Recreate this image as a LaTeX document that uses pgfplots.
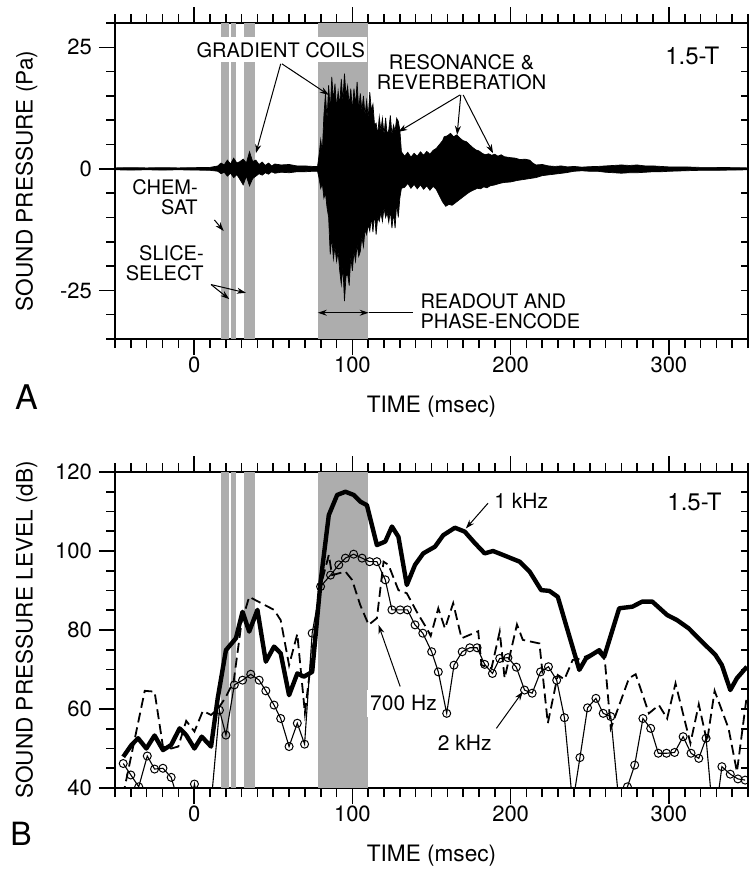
\documentclass[border=0pt]{standalone}
\usepackage{fontspec}
\setmainfont{TeX Gyre Heros}
\usepackage{pgfplots}
\pgfplotsset{compat=1.18}
\usetikzlibrary{arrows.meta}
\definecolor{band}{gray}{0.68}

% waveform envelope: upper edge left to right, then lower edge right to left
\pgfplotstableread{
t p
-50 0.2
-40 0.25
-30 0.2
-20 0.25
-10 0.2
0 0.25
10 0.3
15 0.6
17 1.2
19 0.8
21 1.8
23 1.0
25 2.2
27 1.2
29 1.5
31 2.0
33 1.2
35 3.5
37 1.5
39 1.8
41 0.9
43 1.4
45 0.7
47 1.2
49 0.6
51 1.0
55 0.8
60 0.9
65 0.6
70 0.6
75 0.5
78 0.5
79 3.0
80 6.0
81 3.5
82 11.0
83 15.5
84 10.0
85 17.2
86 12.0
87 18.9
88 14.0
89 17.5
90 12.5
91 16.0
92 13.0
93 18.5
94 14.0
95 19.6
96 15.0
97 17.0
98 13.0
99 16.5
100 12.0
101 16.5
102 13.0
103 17.9
104 12.0
105 15.5
106 12.0
107 15.0
108 11.0
109 14.0
110 10.5
111 15.8
112 12.0
113 13.3
114 9.0
115 9.4
116 7.0
117 10.7
118 8.0
119 10.4
120 7.0
121 10.5
122 7.0
123 8.0
124 11.0
125 7.0
126 9.0
127 7.8
128 10.4
129 9.8
130 8.0
131 3.5
133 2.6
135 3.4
137 2.4
139 3.2
141 2.6
143 3.5
145 2.8
147 3.6
149 3.0
151 3.8
153 4.2
155 5.0
157 5.8
158 6.6
160 6.8
162 7.3
164 6.6
166 7.0
168 6.3
170 5.8
172 5.6
174 5.0
176 4.4
178 3.9
180 3.7
182 3.2
184 2.9
186 3.1
188 2.8
190 3.0
192 2.6
194 2.9
196 2.5
198 2.4
200 2.3
203 2.2
206 1.9
209 2.0
212 1.8
214 1.2
216 0.8
220 0.9
224 0.6
228 0.5
232 0.6
236 0.4
240 0.5
245 0.35
250 0.45
255 0.5
260 0.6
265 0.7
270 0.8
275 0.7
280 0.8
285 0.6
290 0.6
295 0.5
300 0.4
310 0.4
320 0.3
330 0.3
340 0.25
350 0.2
350 -0.2
340 -0.25
330 -0.3
320 -0.3
310 -0.4
300 -0.5
295 -0.6
290 -0.6
285 -0.7
280 -0.8
275 -0.8
270 -0.9
265 -0.8
260 -0.7
255 -0.5
250 -0.5
245 -0.4
240 -0.5
235 -0.8
230 -1.0
225 -1.2
220 -1.4
216 -1.8
212 -2.0
208 -2.2
204 -2.4
200 -2.7
196 -2.8
193 -3.0
190 -3.3
187 -3.5
185 -3.9
183 -3.7
181 -4.1
179 -4.0
177 -4.3
175 -4.6
173 -5.0
171 -5.5
169 -6.0
167 -6.5
165 -7.0
163 -7.5
161 -7.3
159 -7.7
157 -6.8
155 -5.5
153 -4.2
151 -3.6
149 -4.4
147 -3.5
145 -4.2
143 -3.3
141 -4.1
139 -3.2
137 -4.0
135 -3.0
133 -3.8
131 -4.0
130 -6.0
129 -10.0
128 -7.0
127 -12.2
126 -9.0
125 -12.2
124 -8.5
123 -11.0
122 -9.0
121 -10.0
120 -8.0
119 -10.8
118 -9.0
117 -10.8
116 -10.0
115 -13.5
114 -9.0
113 -13.0
112 -10.0
111 -12.8
110 -11.5
109 -13.5
108 -12.5
107 -16.0
106 -14.0
105 -17.0
104 -18.0
103 -15.5
102 -19.0
101 -17.0
100 -21.0
99 -18.0
98 -24.0
97 -21.7
96 -22.0
95 -27.2
94 -20.0
93 -23.8
92 -21.0
91 -17.0
90 -19.0
89 -16.0
88 -18.5
87 -14.0
86 -17.6
85 -10.0
84 -8.0
83 -5.0
82 -6.0
81 -3.0
80 -4.0
79 -2.0
78 -0.5
75 -0.5
70 -0.6
65 -0.6
60 -0.8
55 -0.7
51 -0.9
49 -0.6
47 -1.1
45 -0.8
43 -1.3
41 -1.0
39 -1.5
37 -2.0
35 -3.5
33 -1.5
31 -3.3
29 -2.2
27 -1.2
25 -1.8
23 -0.9
21 -1.5
19 -0.7
17 -1.0
15 -0.5
10 -0.3
0 -0.25
-10 -0.2
-20 -0.25
-30 -0.2
-40 -0.25
-50 -0.2
}\wave

\pgfplotstableread{
t db
-44.8 47.9
-39.6 50.9
-35.4 52.6
-30.2 50.0
-25.0 53.3
-19.7 49.6
-14.5 50.9
-9.2 55.1
-5.0 53.4
0.2 50.0
4.8 53.0
10.7 50.5
14.9 62.7
20.1 74.9
26.4 77.9
30.6 84.6
34.8 79.6
40.0 85.1
45.3 72.0
50.5 75.8
54.7 74.1
60.0 63.5
65.2 69.0
69.4 68.2
74.6 69.4
79.9 92.2
85.1 109.1
90.4 114.2
95.6 115.0
100.8 114.2
105.0 112.5
109.2 111.6
115.5 101.5
120.8 102.4
125.0 106.2
129.1 103.6
134.4 91.4
139.6 96.5
144.8 99.4
152.2 101.1
157.4 104.0
164.8 105.9
171.0 104.9
177.4 102.0
183.6 99.4
188.9 100.0
195.2 99.0
205.7 97.3
212.0 94.8
219.3 90.1
224.5 89.9
229.8 88.4
235.0 81.3
243.4 69.9
247.6 72.8
252.8 74.1
256.0 74.9
259.1 73.2
268.6 85.5
276.9 85.9
283.2 87.2
289.5 87.2
298.9 83.8
305.2 82.5
312.6 80.4
321.0 77.0
329.4 73.7
333.5 71.1
338.8 64.8
343.0 67.8
349.3 70.7
}\onek

\pgfplotstableread{
t db
-45.0 38.0
-31.2 64.6
-25.0 64.4
-19.7 50.5
-14.5 50.0
-10.0 50.5
-5.0 57.0
0.2 54.3
5.5 59.5
10.7 58.5
15.0 60.0
20.0 63.0
25.0 67.0
30.0 82.0
34.8 88.4
50.5 85.1
54.7 82.5
60.0 71.1
65.2 79.0
70.0 59.0
73.6 71.1
79.9 91.0
85.1 99.0
87.2 93.9
95.6 94.8
99.8 92.7
105.0 86.3
110.3 81.3
115.5 83.0
119.7 97.3
122.8 96.5
129.1 90.1
134.4 89.3
140.7 84.6
147.0 80.4
149.5 78.5
154.3 85.5
158.5 80.4
163.7 86.8
169.0 77.9
179.5 79.7
181.6 71.1
187.9 70.3
193.1 79.6
196.2 67.8
204.0 81.4
207.7 77.5
218.2 76.6
223.5 56.4
229.8 68.6
234.0 67.5
239.2 72.4
244.4 72.8
249.7 73.7
255.0 74.5
259.5 72.5
263.3 55.1
274.8 67.8
279.0 68.8
287.4 58.9
293.7 61.0
298.9 57.6
304.2 66.5
313.6 51.3
318.9 61.2
324.1 51.7
328.9 64.6
337.7 55.1
343.0 44.1
349.3 63.5
}\sevenh

\pgfplotstableread{
t db
-44.8 46.2
-40.0 43.3
-35.0 40.3
-29.6 48.1
-25.0 44.8
-19.7 45.0
-14.5 42.7
-9.5 36.0
-4.8 30.0
0.2 41.0
5.5 30.0
10.7 36.0
16.0 59.7
20.1 53.4
25.4 66.1
30.6 67.3
35.8 68.8
41.1 67.3
45.3 64.6
50.5 61.0
54.7 57.6
60.0 50.5
65.2 56.4
69.8 51.1
74.6 79.2
79.9 91.0
86.2 93.9
91.4 96.5
95.6 98.2
100.8 99.2
106.1 98.2
110.9 97.3
115.5 97.3
120.8 92.7
125.0 85.1
130.2 85.1
134.8 85.1
139.6 81.3
144.5 79.2
150.1 74.5
154.3 69.4
159.6 58.9
164.2 71.1
169.4 74.5
174.2 75.5
178.8 75.5
183.6 71.3
188.5 69.0
193.1 72.8
198.3 73.0
203.6 70.6
208.8 64.8
213.6 64.0
218.9 69.4
223.9 70.7
229.1 67.3
234.0 57.8
239.2 36.0
243.8 47.7
248.6 60.3
253.9 62.7
258.5 58.9
263.3 58.1
268.5 36.0
273.8 40.3
278.4 45.8
283.6 57.6
288.5 55.1
293.3 48.8
298.5 48.8
303.6 49.0
309.0 53.0
314.0 48.8
318.9 47.5
323.5 52.6
328.5 30.0
333.5 45.4
338.8 43.5
343.6 42.3
348.2 42.0
}\twok

\pgfplotsset{
  panel/.style={
    scale only axis, width=316.5pt, height=158pt,
    anchor=south west,
    xmin=-50, xmax=350,
    xtick={-100,0,100,200,300,400}, minor x tick num=9,
    xtick pos=both, ytick pos=left, tick align=outside,
    major tick length=8pt, minor tick length=4.5pt,
    axis line style={line width=1pt},
    tick style={line width=0.8pt, black},
    tick label style={font=\fontsize{11}{13}\selectfont},
    xticklabel style={yshift=2.5pt},
    label style={font=\fontsize{11.3}{13}\selectfont},
    /pgf/number format/assume math mode=true,
    xlabel={TIME (msec)},
    xlabel style={at={(axis description cs:0.5,-0.215)}, anchor=center},
    ylabel style={at={(axis description cs:-0.1398,0.5)}, anchor=center},
  },
  rightticks/.style={
    scale only axis, width=316.5pt, height=158pt,
    anchor=south west,
    xmin=-50, xmax=350,
    hide x axis, axis y line*=right,
    tick align=inside, major tick length=3.5pt,
    yticklabels={},
    axis line style={line width=1pt},
    tick style={line width=0.8pt, black},
  },
}
\tikzset{
  note/.style={font=\fontsize{10}{10}\selectfont, inner sep=0pt},
  arr/.style={line width=0.5pt, -{Stealth[length=4.5pt,width=3pt]}},
}

\begin{document}
\begin{tikzpicture}
\useasboundingbox (0,0) rectangle (376.5pt,-435.5pt);

% ---------- panel A ----------
\begin{axis}[panel, at={(57.5pt,-169.5pt)},
  ymin=-35, ymax=30,
  ytick={-50,-25,0,25,50}, minor y tick num=4,
  ylabel={SOUND PRESSURE (Pa)}]
\addplot[draw=none, fill=band] coordinates {(17,-35) (17,30) (22,30) (22,-35)} -- cycle;
\addplot[draw=none, fill=band] coordinates {(23,-35) (23,30) (26.5,30) (26.5,-35)} -- cycle;
\addplot[draw=none, fill=band] coordinates {(31.5,-35) (31.5,30) (38.5,30) (38.5,-35)} -- cycle;
\addplot[draw=none, fill=band] coordinates {(78,-35) (78,30) (110,30) (110,-35)} -- cycle;
\addplot[black, fill=black, line width=0.35pt, line join=miter] table[x=t, y=p] {\wave} -- cycle;

\node[note, fill=white, inner xsep=1pt, inner ysep=2.5pt] at (axis cs:54.7,24.5) {GRADIENT COILS};
\draw[arr] (axis cs:54.7,21.6) -- (axis cs:39,3.2);
\draw[arr] (axis cs:55.5,21.6) -- (axis cs:85.1,15.2);

\node[note, align=center] at (axis cs:169,19.9) {RESONANCE \&\\REVERBERATION};
\draw[arr] (axis cs:168,15.2) -- (axis cs:129,7.6);
\draw[arr] (axis cs:168.5,15.2) -- (axis cs:166.2,7.0);
\draw[arr] (axis cs:170,15.2) -- (axis cs:188.9,3.2);

\node[font=\fontsize{12}{12}\selectfont, inner sep=0pt] at (axis cs:314.8,23.3) {1.5-T};

\node[note, align=right, anchor=east] at (axis cs:2.5,-5.9) {CHEM-\\SAT};
\draw[arr] (axis cs:12.8,-10.5) -- (axis cs:18.7,-12.8);

\node[note, align=right, anchor=east] at (axis cs:6.3,-19.4) {SLICE-\\SELECT};
\draw[arr] (axis cs:10.7,-23.8) -- (axis cs:22.2,-26.8);
\draw[arr] (axis cs:10.7,-23.8) -- (axis cs:32.7,-25.5);

\node[note, align=left, anchor=west] at (axis cs:142.8,-29.2) {READOUT AND\\PHASE-ENCODE};
\draw[line width=0.5pt, {Stealth[length=4.5pt,width=3pt]}-{Stealth[length=4.5pt,width=3pt]}] (axis cs:78.2,-29.6) -- (axis cs:110.3,-29.6);
\draw[line width=0.5pt] (axis cs:110.3,-29.6) -- (axis cs:138,-29.6);
\end{axis}
\begin{axis}[rightticks, at={(57.5pt,-169.5pt)}, ymin=-35, ymax=30, ytick={-35,-30,...,30}]
\addplot[draw=none] coordinates {(0,0)};
\end{axis}

% ---------- panel B ----------
\begin{axis}[panel, at={(57.5pt,-394pt)},
  ymin=40, ymax=120,
  ytick={40,60,80,100,120}, minor y tick num=3,
  ylabel={SOUND PRESSURE LEVEL (dB)}]
\addplot[draw=none, fill=band] coordinates {(17,40) (17,120) (22,120) (22,40)} -- cycle;
\addplot[draw=none, fill=band] coordinates {(23,40) (23,120) (26.5,120) (26.5,40)} -- cycle;
\addplot[draw=none, fill=band] coordinates {(31.5,40) (31.5,120) (38.5,120) (38.5,40)} -- cycle;
\addplot[draw=none, fill=band] coordinates {(78,40) (78,120) (110,120) (110,40)} -- cycle;

\addplot[black, line width=0.55pt] table[x=t, y=db] {\twok};
\addplot[only marks, mark=o, mark size=2pt, black, mark options={line width=0.5pt},
  restrict y to domain=39.5:121, clip mode=individual] table[x=t, y=db] {\twok};
\addplot[black, line width=0.9pt, dash pattern=on 5pt off 2.5pt] table[x=t, y=db] {\sevenh};
\addplot[black, line width=2.2pt, line join=round] table[x=t, y=db] {\onek};

\node[note, font=\fontsize{10.5}{10.5}\selectfont] at (axis cs:206.7,112.8) {1 kHz};
\draw[arr] (axis cs:185.7,112.1) -- (axis cs:171.7,105.7);
\node[font=\fontsize{12}{12}\selectfont, inner sep=0pt] at (axis cs:316.2,112.5) {1.5-T};
\node[note, font=\fontsize{10.5}{10.5}\selectfont, fill=white, inner xsep=1.5pt, inner ysep=3pt] at (axis cs:132.3,61.4) {700 Hz};
\draw[arr] (axis cs:130.2,65.7) -- (axis cs:116.5,81.3);
\node[note, font=\fontsize{10.5}{10.5}\selectfont] at (axis cs:171,51.5) {2 kHz};
\draw[arr] (axis cs:191,55.1) -- (axis cs:207.7,64.4);
\end{axis}
\begin{axis}[rightticks, at={(57.5pt,-394pt)}, ymin=40, ymax=120, ytick={40,45,...,120}]
\addplot[draw=none] coordinates {(0,50)};
\end{axis}

\node[font=\fontsize{17}{17}\selectfont] at (13.25pt,-198.75pt) {A};
\node[font=\fontsize{16}{16}\selectfont] at (10.5pt,-417pt) {B};
\end{tikzpicture}
\end{document}
